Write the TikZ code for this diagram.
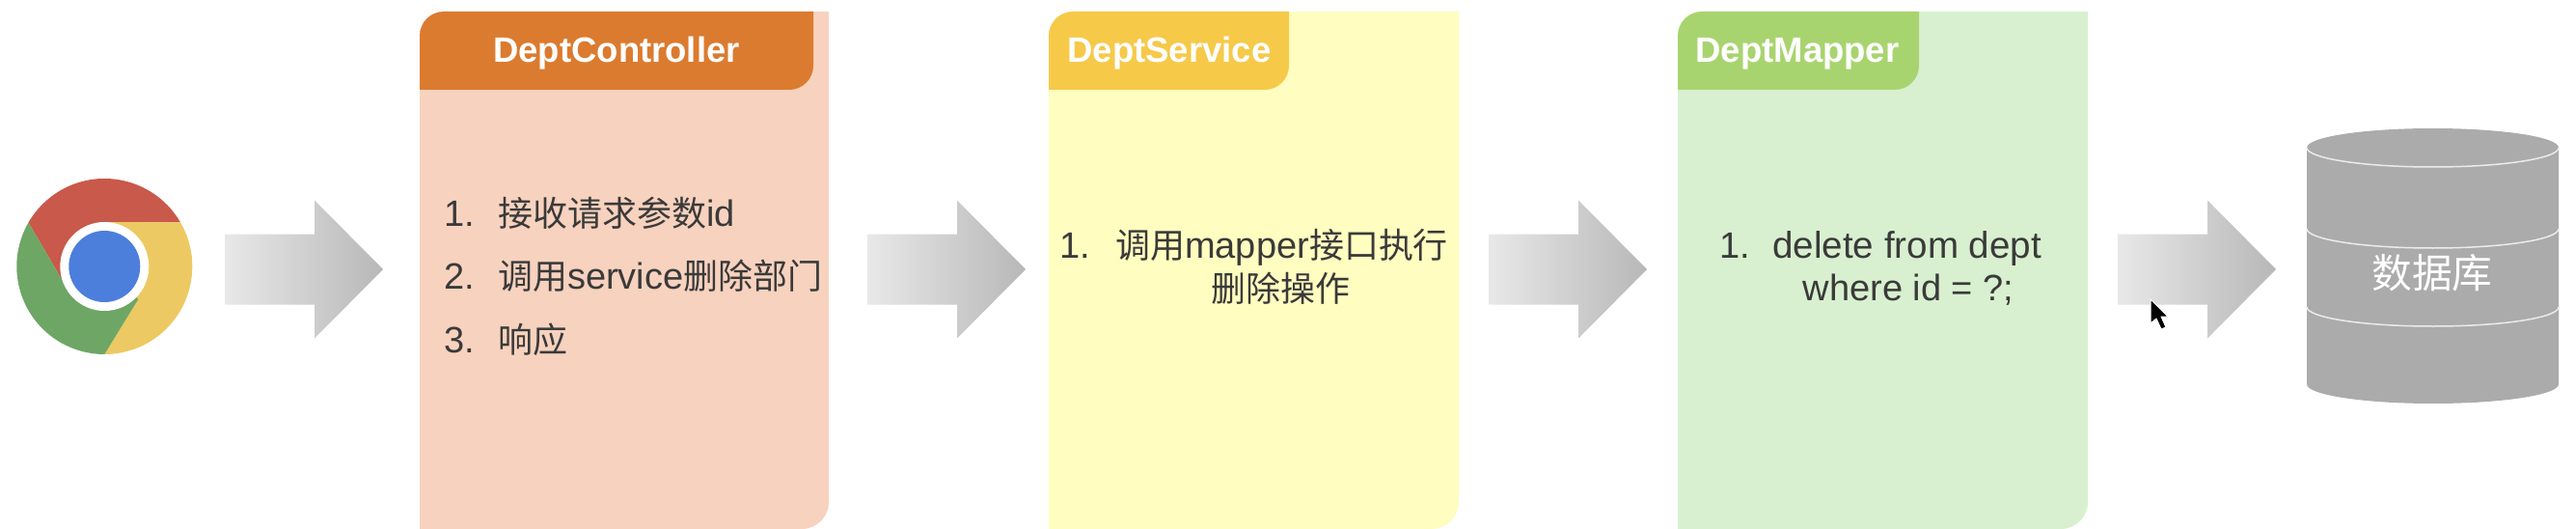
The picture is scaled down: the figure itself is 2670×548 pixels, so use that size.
\documentclass[tikz,border=0pt]{standalone}
\usepackage{fontspec}
\setmainfont{Liberation Sans}
\newfontfamily\cjk[Scale=0.947]{Noto Sans CJK SC}
\definecolor{panelA}{HTML}{F7D2BE}
\definecolor{headA}{HTML}{DB7B2F}
\definecolor{panelB}{HTML}{FFFDC0}
\definecolor{headB}{HTML}{F6C949}
\definecolor{panelC}{HTML}{D8F0CF}
\definecolor{headC}{HTML}{A8D46F}
\definecolor{dbgray}{HTML}{ABABAB}
\definecolor{ink}{HTML}{3A3A3A}
\definecolor{chromeR}{HTML}{C9594A}
\definecolor{chromeY}{HTML}{ECC962}
\definecolor{chromeG}{HTML}{6EA665}
\definecolor{chromeB}{HTML}{4C7EDC}
\tikzset{
  headtext/.style={anchor=base,inner sep=0pt,text=white,font=\fontsize{36.5}{36.5}\selectfont\bfseries},
  itemtext/.style={anchor=base west,inner sep=0pt,text=ink,font=\fontsize{38}{38}\selectfont},
  linetext/.style={anchor=base,inner sep=0pt,text=ink,font=\fontsize{38}{38}\selectfont},
  grayarrow/.style={left color=black!9,right color=black!28,draw=none},
  dbline/.style={draw=white!92!black,line width=1.5pt}
}
% #1 = left-middle coordinate of the block arrow
\newcommand{\blockarrow}[1]{\path[grayarrow] (#1) ++(0,-36.5) -- ++(93,0) -- ++(0,-35) -- ++(71,71.5) -- ++(-71,71.5) -- ++(0,-35) -- ++(-93,0) -- cycle;}
% #1 left, #2 right, #3 panel colour
\newcommand{\panelbody}[3]{%
  \fill[#3] (#1,548) [rounded corners=25pt] -- (#1,12) [sharp corners] -- (#2,12) [rounded corners=28pt] -- (#2,548) [sharp corners] -- cycle;
}
% #1 left, #2 right, #3 header colour
\newcommand{\panelhead}[3]{%
  \fill[#3] (#1,93) [rounded corners=25pt] -- (#1,12) [sharp corners] -- (#2,12) [rounded corners=25pt] -- (#2,93) [sharp corners] -- cycle;
}
\begin{document}
\begin{tikzpicture}[x=1pt,y=-1pt]
\useasboundingbox (0,0) rectangle (2670,548);
\fill[white] (0,0) rectangle (2670,548);

% browser icon
\coordinate (c) at (108.3,276);
\fill[chromeR] (c) ++(-30:91) arc[start angle=30,end angle=150,radius=91pt] -- (63.3,288.3) -- (c) -- (108.3,230) -- cycle;
\fill[chromeY] (c) ++(-30:91) arc[start angle=30,end angle=-90,radius=91pt] -- (143.3,310) -- (c) -- (108.3,230) -- cycle;
\fill[chromeG] (c) ++(-150:91) arc[start angle=150,end angle=270,radius=91pt] -- (143.3,310) -- (c) -- (63.3,288.3) -- cycle;
\fill[white] (c) circle[radius=46pt];
\fill[chromeB] (c) circle[radius=37pt];

% panels
\panelbody{435}{859}{panelA}
\panelbody{1087}{1512}{panelB}
\panelbody{1739}{2164}{panelC}
\panelhead{435}{843}{headA}
\panelhead{1087}{1336}{headB}
\panelhead{1739}{1989}{headC}

\node[headtext] (h1) at (639,65) {DeptController};
\node[headtext] (h2) at (1212,65) {DeptService};
\node[headtext] (h3) at (1863,65) {DeptMapper};

\node[itemtext] (n11) at (460,234) {1.};
\node[itemtext] (t11) at (516,234) {{\cjk 接收请求参数}id};
\node[itemtext] (n12) at (460,299) {2.};
\node[itemtext] (t12) at (516,299) {{\cjk 调用}service{\cjk 删除部门}};
\node[itemtext] (n13) at (460,365) {3.};
\node[itemtext] (t13) at (516,365) {{\cjk 响应}};

\node[itemtext] (n21) at (1098,267) {1.};
\node[itemtext] (t21) at (1156,267) {{\cjk 调用}mapper{\cjk 接口执行}};
\node[linetext] (t22) at (1327,312) {{\cjk 删除操作}};

\node[itemtext] (n31) at (1782,267) {1.};
\node[itemtext,font=\fontsize{38.6}{38.6}\selectfont] (t31) at (1837,267) {delete from dept};
\node[linetext] (t32) at (1978,311) {where id = ?;};

% block arrows
\coordinate (a1) at (233,279);
\coordinate (a2) at (899,279);
\coordinate (a3) at (1543,279);
\coordinate (a4) at (2195,279);
\blockarrow{a1}
\blockarrow{a2}
\blockarrow{a3}
\blockarrow{a4}

% database
\fill[dbgray] (2391,153) arc[start angle=180,end angle=0,x radius=130.5pt,y radius=20pt] -- (2652,398) arc[start angle=0,end angle=-180,x radius=130.5pt,y radius=20pt] -- cycle;
\draw[dbline] (2391,153) arc[start angle=180,end angle=360,x radius=130.5pt,y radius=20pt];
\draw[dbline] (2391,237) arc[start angle=180,end angle=360,x radius=130.5pt,y radius=20pt];
\draw[dbline] (2391,318) arc[start angle=180,end angle=360,x radius=130.5pt,y radius=20pt];
\node[anchor=center,inner sep=0pt,text=white,font=\cjk\fontsize{44}{44}\selectfont] (db) at (2521,283) {数据库};

% mouse pointer
\fill[black,draw=white,line width=1pt,line join=round] (2229,310) -- (2229,335) -- (2235,330) -- (2240,341) -- (2245,339) -- (2240,328) -- (2247,328) -- cycle;
\end{tikzpicture}
\end{document}
